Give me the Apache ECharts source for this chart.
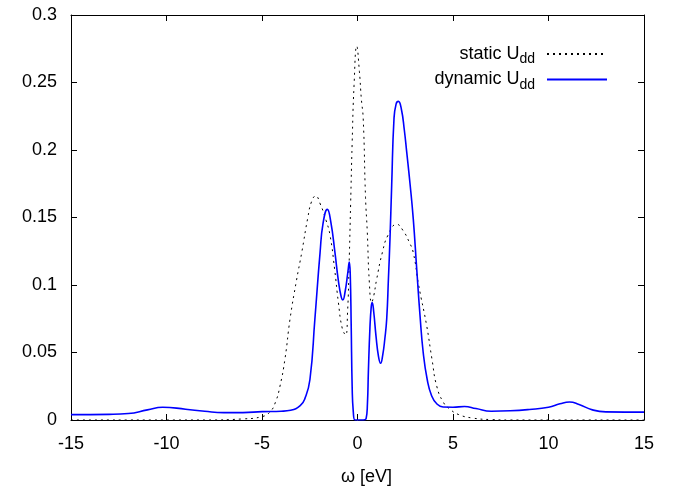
<!DOCTYPE html>
<html>
<head>
<meta charset="utf-8">
<script src="https://cdn.jsdelivr.net/npm/echarts@6/dist/echarts.min.js"></script>
<style>
  html, body { margin: 0; padding: 0; background: #fff; }
  #chart { width: 676px; height: 491px; }
</style>
</head>
<body>
<div id="chart"></div>
<script>
// omega [eV] and spectral weight
var staticX = [-15, -8, -6, -5, -4.58, -4.3, -4.06, -3.8, -3.53, -3.2, -2.92, -2.6, -2.4, -2.19, -1.95, -1.65, -1.44, -1.2, -1.0, -0.8, -0.62,
  -0.52, -0.44, -0.36, -0.28, -0.18, -0.04, 0.1, 0.2, 0.3, 0.42, 0.51, 0.62, 0.74, 0.85, 1.0, 1.3, 1.6, 2.05, 2.4, 2.7, 2.92, 3.2, 3.62,
  3.9, 4.15, 4.5, 4.84, 5.3, 6, 7, 8, 15];
var staticY = [0, 0, 0.0008, 0.0025, 0.006, 0.013, 0.025, 0.045, 0.075, 0.103, 0.124, 0.150, 0.162, 0.166, 0.160, 0.148, 0.137, 0.112, 0.087, 0.068, 0.063,
  0.080, 0.115, 0.160, 0.205, 0.248, 0.277, 0.258, 0.238, 0.223, 0.165, 0.140, 0.102, 0.087, 0.092, 0.104, 0.124, 0.137, 0.145, 0.140, 0.132, 0.124, 0.100, 0.070,
  0.045, 0.025, 0.013, 0.008, 0.004, 0.0015, 0.0003, 0, 0];

var dynX = [-15, -13, -12, -11, -10.2, -9, -8, -7, -6, -5, -4, -3.5, -3.0, -2.75, -2.49, -2.23, -1.96, -1.8, -1.58, -1.4, -1.18, -1.0, -0.85, -0.77,
  -0.65, -0.5, -0.43, -0.38, -0.33, -0.28, -0.22, -0.13, 0.0, 0.3, 0.45, 0.52, 0.57, 0.65, 0.72, 0.77, 0.85, 0.97, 1.1, 1.21, 1.32, 1.43,
  1.53, 1.62, 1.70, 1.79, 1.91, 2.02, 2.14, 2.3, 2.45, 2.58, 2.75, 2.92, 3.1, 3.27, 3.44, 3.65, 3.88, 4.15, 4.48, 5.0, 5.6, 6.2, 7.0,
  8.0, 9.0, 10.0, 10.6, 11.1, 11.6, 12.3, 13.0, 15];
var dynY = [0.0040, 0.0042, 0.0048, 0.0075, 0.0095, 0.0080, 0.0065, 0.0055, 0.0055, 0.0062, 0.0065, 0.0072, 0.0106, 0.016, 0.030, 0.075, 0.124, 0.146, 0.156, 0.147, 0.124, 0.103, 0.091, 0.089,
  0.095, 0.110, 0.117, 0.108, 0.070, 0.025, 0.006, 0, 0, 0, 0.001, 0.012, 0.036, 0.068, 0.084, 0.087, 0.080, 0.062, 0.047, 0.042, 0.048, 0.060,
  0.075, 0.105, 0.134, 0.174, 0.223, 0.234, 0.236, 0.230, 0.215, 0.198, 0.175, 0.149, 0.112, 0.078, 0.050, 0.030, 0.018, 0.012, 0.0096, 0.0095, 0.0100, 0.0085, 0.0065,
  0.0068, 0.0078, 0.0095, 0.0120, 0.0133, 0.0115, 0.0075, 0.0060, 0.0058];

var xTicks = [-15, -10, -5, 0, 5, 10, 15];
var yTicks = [0, 0.05, 0.1, 0.15, 0.2, 0.25, 0.3];

function pairs(xs, ys) {
  return xs.map(function (x, i) { return [x, ys[i]]; });
}

var chart = echarts.init(document.getElementById('chart'));
var font = 'Liberation Sans, Arial, sans-serif';
var tickStyle = { show: true, inside: true, length: 6, lineStyle: { color: '#000' } };
var frameLine = { show: true, onZero: false, lineStyle: { color: '#000', width: 1 } };

var option = {
  animation: false,
  grid: { left: 71, right: 32, top: 15, bottom: 70, show: false },
  legend: {
    right: 63, top: 40, orient: 'vertical', align: 'right',
    itemWidth: 60, itemHeight: 10, itemGap: 4,
    itemStyle: { opacity: 0 },
    textStyle: {
      fontFamily: font, fontSize: 18, color: '#000', padding: [0, 7, 0, 0],
      rich: {
        a: { fontFamily: font, fontSize: 18, color: '#000' },
        s: { fontFamily: font, fontSize: 14, color: '#000', padding: [11, 0, 0, 0] }
      }
    },
    formatter: function (name) {
      return name == 'static' ? '{a|static U}{s|dd}' : '{a|dynamic U}{s|dd}';
    },
    data: ['static', 'dynamic']
  },
  xAxis: [{
    type: 'value', min: -15, max: 15, interval: 5,
    name: 'ω [eV]', nameLocation: 'middle', nameGap: 48,
    nameTextStyle: { fontFamily: font, fontSize: 18, color: '#000', padding: [0, 0, 0, 18] },
    axisLine: frameLine,
    axisTick: tickStyle,
    axisLabel: { fontFamily: font, fontSize: 18, color: '#000', margin: 15,
      customValues: xTicks },
    splitLine: { show: false }
  }, {
    type: 'value', min: -15, max: 15, interval: 5, position: 'top',
    axisLine: frameLine,
    axisTick: tickStyle, axisLabel: { show: false }, splitLine: { show: false }
  }],
  yAxis: [{
    type: 'value', min: 0, max: 0.3, interval: 0.05,
    axisLine: frameLine,
    axisTick: tickStyle,
    axisLabel: { fontFamily: font, fontSize: 18, color: '#000', margin: 14,
      formatter: function (v) { return String(+v.toFixed(2)); } },
    splitLine: { show: false }
  }, {
    type: 'value', min: 0, max: 0.3, interval: 0.05, position: 'right',
    axisLine: frameLine,
    axisTick: tickStyle, axisLabel: { show: false }, splitLine: { show: false }
  }],
  series: [{
    name: 'static', type: 'line', symbol: 'none', smooth: 0.5,
    lineStyle: { color: '#000', width: 1, type: [2, 4] },
    itemStyle: { color: '#000' },
    data: pairs(staticX, staticY)
  }, {
    name: 'dynamic', type: 'line', symbol: 'none', smooth: 0.5,
    lineStyle: { color: '#0000ff', width: 1.6 },
    itemStyle: { color: '#0000ff' },
    data: pairs(dynX, dynY)
  }]
};

chart.setOption(option);
</script>
</body>
</html>
